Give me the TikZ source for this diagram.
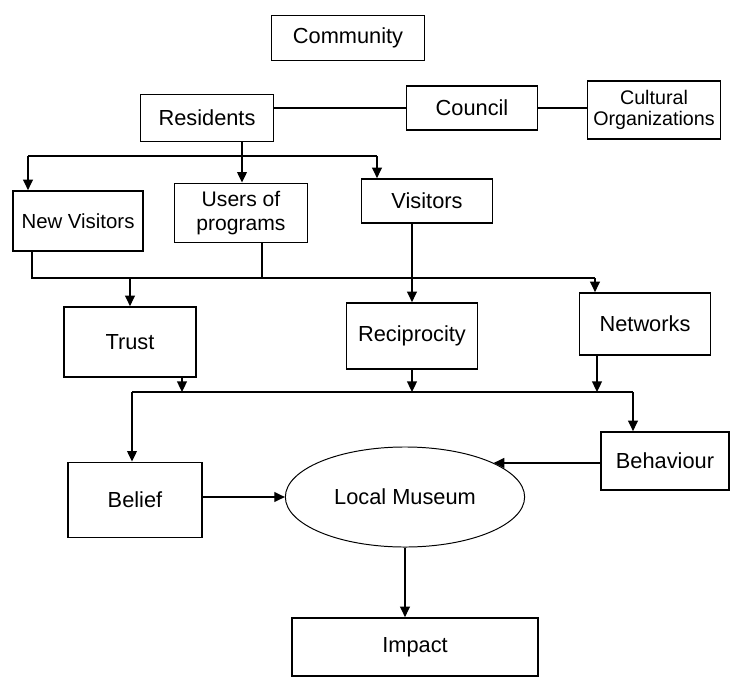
\documentclass[tikz,border=0pt]{standalone}
\usepackage{fontspec}
\setmainfont{Liberation Sans}
\usepackage{tikz}
\usetikzlibrary{positioning}
\usetikzlibrary{shapes.geometric}
\usetikzlibrary{arrows.meta}
\usetikzlibrary{calc}

\begin{document}
\begin{tikzpicture}[x=0.025cm, y=-0.025cm,
        every node/.style={font=\fontsize{15.5}{17}\selectfont, align=center},
        box/.style={draw, line width=1.2pt, inner sep=0pt},
        a/.style={-{Triangle[length=7.5pt,width=7pt]}},
        every path/.style={line width=0.9pt}]
            \useasboundingbox (0,0) rectangle (730,677);

            \node[box, minimum width=3.83cm, minimum height=1.13cm] (comm) at (348, 38) {Community};
            \node[box, minimum width=3.33cm, minimum height=1.18cm] (res) at (207, 118) {Residents};
            \node[box, minimum width=3.28cm, minimum height=1.1cm] (council) at (472, 108) {Council};
            \node[box, minimum width=3.33cm, minimum height=1.45cm, font=\fontsize{14}{15.5}\selectfont] (cult) at (654, 110) {Cultural\\Organizations};

            \node[box, minimum width=3.25cm, minimum height=1.5cm, font=\fontsize{14.5}{16}\selectfont] (nv) at (78, 221) {New Visitors};
            \node[box, minimum width=3.33cm, minimum height=1.48cm, font=\fontsize{15}{17}\selectfont] (users) at (241, 213) {Users of\\programs};
            \node[box, minimum width=3.28cm, minimum height=1.1cm] (vis) at (427, 201) {Visitors};

            \node[box, minimum width=3.3cm, minimum height=1.75cm] (trust) at (130, 342) {Trust};
            \node[box, minimum width=3.28cm, minimum height=1.65cm] (recip) at (412, 336) {Reciprocity};
            \node[box, minimum width=3.28cm, minimum height=1.55cm] (net) at (645, 324) {Networks};

            \node[box, minimum width=3.35cm, minimum height=1.88cm] (belief) at (135, 500) {Belief};
            \node[box, minimum width=3.2cm, minimum height=1.45cm] (behav) at (665, 461) {Behaviour};
            \node[ellipse, draw, line width=0.7pt, minimum width=5.98cm, minimum height=2.5cm] (museum) at (405, 497) {Local Museum};
            \node[box, minimum width=6.15cm, minimum height=1.45cm] (impact) at (415, 647) {Impact};

            % top row
            \draw (res.east |- council.west) -- (council.west);
            \draw (council.east) -- (council.east -| cult.west);

            % residents split
            \coordinate (rl) at (28, 156);
            \coordinate (rs) at (242, 156);
            \coordinate (rr) at (377, 156);
            \draw (res.south -| rs) -- (rs);
            \draw (rl) -- (rr);
            \draw[a] (rl) -- (rl |- nv.north);
            \draw[a] (rs) -- (rs |- users.north);
            \draw[a] (rr) -- (rr |- vis.north);

            % visitors to trust, reciprocity, networks
            \coordinate (ml) at (32, 278);
            \coordinate (mu) at (262, 278);
            \coordinate (mr) at (595, 278);
            \draw (nv.south -| ml) -- (ml) -- (mr);
            \draw (users.south -| mu) -- (mu);
            \draw[a] (trust.north |- ml) -- (trust.north);
            \draw[a] (mr) -- (mr |- net.north);
            \draw[a] (vis.south -| recip.north) -- (recip.north);

            % into belief and behaviour
            \coordinate (bl) at (132, 392);
            \coordinate (bt) at (182, 392);
            \coordinate (bn) at (597, 392);
            \coordinate (br) at (633, 392);
            \draw[a] (trust.south -| bt) -- (bt);
            \draw[a] (recip.south) -- (recip.south |- bl);
            \draw[a] (net.south -| bn) -- (bn);
            \draw (bl) -- (br);
            \draw[a] (bl) -- (bl |- belief.north);
            \draw[a] (br) -- (br |- behav.north);

            % museum
            \draw[a] (belief.east |- museum.west) -- (museum.west);
            \draw[a] (behav.west |- museum.21) -- (museum.21);
            \draw[a] (museum.south) -- (museum.south |- impact.north);
        \end{tikzpicture}
\end{document}
